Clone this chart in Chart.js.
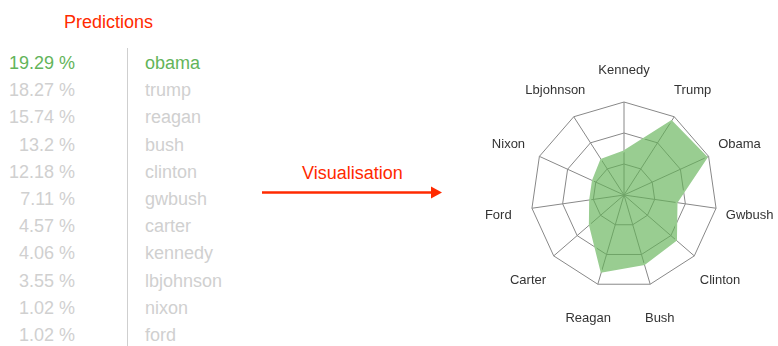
<!DOCTYPE html>
<html>
<head>
<meta charset="utf-8">
<script src="https://cdn.jsdelivr.net/npm/chart.js@4.4.1/dist/chart.umd.min.js"></script>
<style>
  html, body { margin: 0; padding: 0; background: #fff; }
  body {
    width: 778px; height: 346px; position: relative; overflow: hidden;
    font-family: 'Liberation Sans', Arial, Helvetica, sans-serif;
  }
  .title { position: absolute; left: 64px; top: 9px; font-size: 18px; line-height: 26px; color: #ff2a00; }
  .list { position: absolute; left: 0; top: 50px; }
  .row { position: relative; height: 27.2px; line-height: 27.2px; font-size: 18px; color: #d0d0d0; white-space: nowrap; }
  .row .pct { position: absolute; left: 0; width: 75px; text-align: right; }
  .row .name { position: absolute; left: 145px; }
  .row.top { color: #63b45a; }
  .divider { position: absolute; left: 127px; top: 48px; width: 1px; height: 298px; background: #cfcfcf; }
  .vis { position: absolute; left: 302px; top: 160px; font-size: 18px; line-height: 26px; color: #ff2a00; }
  .arrow { position: absolute; left: 255px; top: 180px; }
  .radar { position: absolute; left: 460px; top: 40px; width: 318px; height: 306px; }
</style>
</head>
<body>
<div class="title">Predictions</div>
<div class="divider"></div>
<div class="list" id="list"></div>
<div class="vis">Visualisation</div>
<svg class="arrow" width="200" height="26" viewBox="0 0 200 26">
  <line x1="7" y1="12.5" x2="178" y2="12.5" stroke="#ff2a00" stroke-width="2.4"/>
  <polygon points="176,6.5 187,12.5 176,18.5" fill="#ff2a00"/>
</svg>
<div class="radar"><canvas id="radarChart"></canvas></div>

<script>
// predicted class shares, highest first
const candidates = ['obama', 'trump', 'reagan', 'bush', 'clinton', 'gwbush', 'carter', 'kennedy', 'lbjohnson', 'nixon', 'ford'];
const shares = [19.29, 18.27, 15.74, 13.2, 12.18, 7.11, 4.57, 4.06, 3.55, 1.02, 1.02];

// spokes of the radar, clockwise from the top
const axisLabels = ['Kennedy', 'Trump', 'Obama', 'Gwbush', 'Clinton', 'Bush', 'Reagan', 'Carter', 'Ford', 'Nixon', 'Lbjohnson'];

// radial scale range and ring step
const scaleMin = -10;
const scaleMax = 20;
const scaleStep = 10;

const list = document.getElementById('list');
candidates.forEach((name, i) => {
  const row = document.createElement('div');
  row.className = 'row' + (i === 0 ? ' top' : '');
  row.innerHTML = '<span class="pct">' + shares[i] + ' %</span><span class="name">' + name + '</span>';
  list.appendChild(row);
});

const radarValues = axisLabels.map(label => shares[candidates.indexOf(label.toLowerCase())]);

// spoke names centred on a ring outside the grid
const spokeLabels = {
  id: 'spokeLabels',
  afterDraw(chart) {
    const scale = chart.scales.r;
    const ctx = chart.ctx;
    ctx.save();
    ctx.font = '13px "Liberation Sans", Arial, sans-serif';
    ctx.fillStyle = '#333';
    ctx.textAlign = 'center';
    ctx.textBaseline = 'middle';
    chart.data.labels.forEach((label, i) => {
      const p = scale.getPointPosition(i, scale.drawingArea + 34);
      ctx.fillText(label, p.x, p.y + 2);
    });
    ctx.restore();
  }
};

new Chart(document.getElementById('radarChart'), {
  type: 'radar',
  data: {
    labels: axisLabels,
    datasets: [{
      data: radarValues,
      backgroundColor: 'rgba(98, 178, 86, 0.65)',
      borderColor: 'rgb(153, 205, 145)',
      borderWidth: 2,
      pointRadius: 0,
      fill: 'start'
    }]
  },
  options: {
    responsive: true,
    maintainAspectRatio: false,
    animation: false,
    layout: { padding: { left: 71, right: 61, top: 62, bottom: 58 } },
    plugins: { legend: { display: false }, tooltip: { enabled: false } },
    scales: {
      r: {
        min: scaleMin,
        max: scaleMax,
        ticks: { display: false, stepSize: scaleStep },
        grid: { color: '#888', lineWidth: 1 },
        angleLines: { color: '#888', lineWidth: 1 },
        pointLabels: { display: false }
      }
    }
  },
  plugins: [spokeLabels]
});
</script>
</body>
</html>
